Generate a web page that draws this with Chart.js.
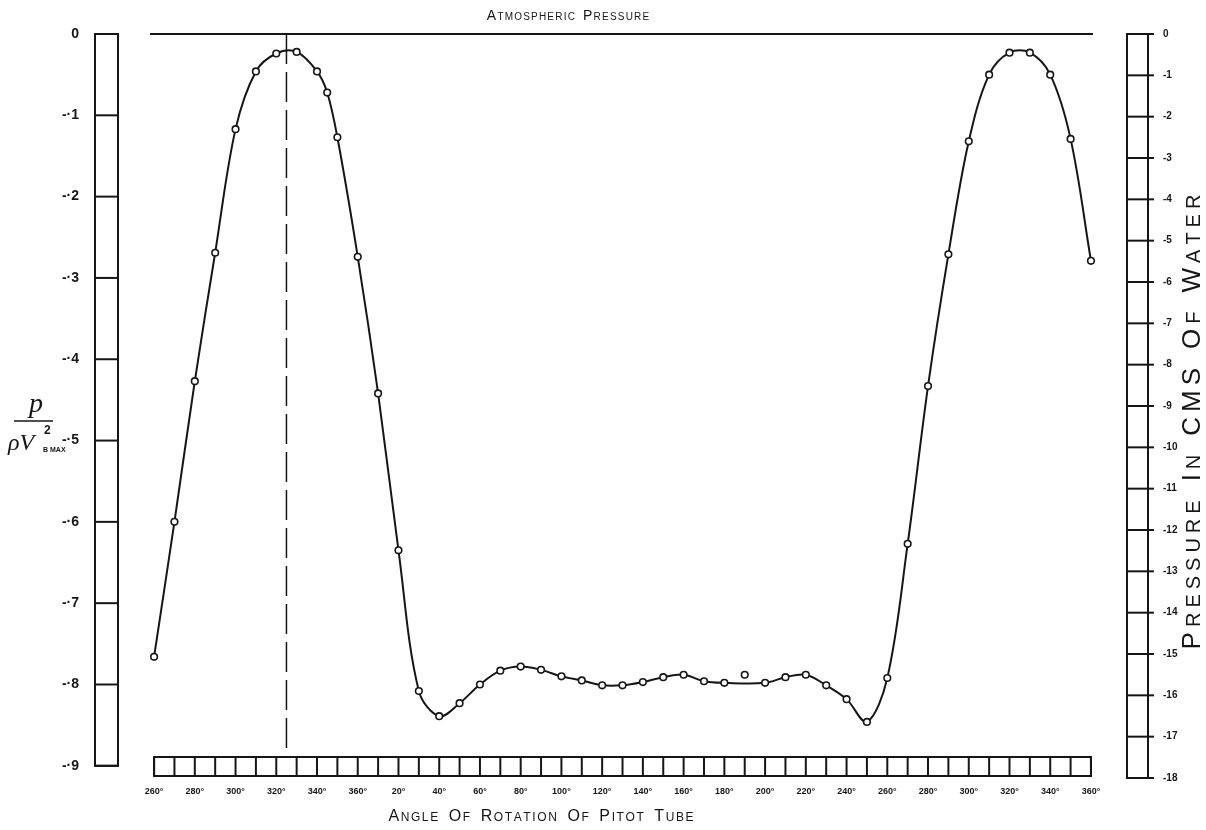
<!DOCTYPE html>
<html>
<head>
<meta charset="utf-8">
<script src="https://cdn.jsdelivr.net/npm/chart.js@4.4.1/dist/chart.umd.min.js"></script>
<style>
  html, body { margin: 0; padding: 0; background: #fff; }
  canvas { display: block; }
</style>
</head>
<body>
<canvas id="pitotChart" width="1206" height="830"></canvas>
<script>
// Angle of rotation, unwrapped: 260..360, then 370..720 stands for 10°..360°
const angles = [260, 270, 280, 290, 300, 310, 320, 330, 340, 345, 350, 360,
  370, 380, 390, 400, 410, 420, 430, 440, 450, 460, 470, 480, 490, 500, 510, 520, 530, 540,
  560, 570, 580, 590, 600, 610, 620, 630, 640, 650, 660, 670, 680, 690, 700, 710, 720];
// p / (rho V^2 max)
const pressure = [-0.766, -0.600, -0.427, -0.269, -0.117, -0.046, -0.024, -0.022, -0.046, -0.072, -0.127, -0.274,
  -0.442, -0.635, -0.808, -0.839, -0.823, -0.800, -0.783, -0.778, -0.782, -0.790, -0.795, -0.801, -0.801, -0.797, -0.791, -0.788, -0.796, -0.798,
  -0.798, -0.791, -0.788, -0.801, -0.818, -0.846, -0.792, -0.627, -0.433, -0.271, -0.132, -0.050, -0.023, -0.023, -0.050, -0.129, -0.279];

// the stray reading at 190° that the curve does not pass through
const strayAngles = [550];
const strayPressure = [-0.788];

// dashed reference line and atmospheric line
const refAngle = 325;
const refDepth = [0, -0.883];
const atmosAngles = [258, 721];
const atmosPressure = [0, 0];

const xMin = 258, xMax = 721;
const xTickValues = [260, 280, 300, 320, 340, 360, 380, 400, 420, 440, 460, 480, 500, 520,
  540, 560, 580, 600, 620, 640, 660, 680, 700, 720];
const xTickLabels = ['260°', '280°', '300°', '320°', '340°', '360°', '20°', '40°', '60°', '80°',
  '100°', '120°', '140°', '160°', '180°', '200°', '220°', '240°', '260°', '280°', '300°', '320°', '340°', '360°'];

const leftMin = -0.915;
const leftTickValues = [0, -0.1, -0.2, -0.3, -0.4, -0.5, -0.6, -0.7, -0.8, -0.9];
const leftTickLabels = ['0', '-·1', '-·2', '-·3', '-·4', '-·5', '-·6', '-·7', '-·8', '-·9'];

const rightTickValues = [0, -1, -2, -3, -4, -5, -6, -7, -8, -9, -10, -11, -12, -13, -14, -15, -16, -17, -18];
const rightTickLabels = ['0', '-1', '-2', '-3', '-4', '-5', '-6', '-7', '-8', '-9', '-10', '-11', '-12',
  '-13', '-14', '-15', '-16', '-17', '-18'];

const INK = '#161616';
const FONT = '"Liberation Sans", Arial, sans-serif';

// uppercase letters drawn big, lowercase drawn as small capitals
function drawCaps(ctx, text, cx, y, big, small, spacing, wordGap) {
  const chars = [...text];
  const fontFor = c => (c === c.toUpperCase() ? big : small) + 'px ' + FONT;
  const widths = chars.map(c => {
    if (c === ' ') return wordGap;
    ctx.font = fontFor(c);
    return ctx.measureText(c.toUpperCase()).width + spacing;
  });
  const total = widths.reduce((a, b) => a + b, 0) - spacing;
  let x = cx - total / 2;
  ctx.textAlign = 'left';
  ctx.textBaseline = 'alphabetic';
  chars.forEach((c, i) => {
    if (c !== ' ') {
      ctx.font = fontFor(c);
      ctx.fillText(c.toUpperCase(), x, y);
    }
    x += widths[i];
  });
}

// keep the fixed side widths and stop tick padding from pushing the plot area in
function fixWidth(w) {
  return s => { s.width = w; s.paddingTop = 0; s.paddingBottom = 0; };
}

const rulers = {
  id: 'rulers',
  beforeDatasetsDraw(chart) {
    const { ctx, chartArea, scales } = chart;
    ctx.save();
    ctx.strokeStyle = INK;
    ctx.lineWidth = 2;

    // left scale bar
    const lx0 = 95, lx1 = 118;
    const lTop = scales.y.getPixelForValue(leftTickValues[0]);
    const lBot = scales.y.getPixelForValue(leftTickValues[leftTickValues.length - 1]);
    ctx.strokeRect(lx0, lTop, lx1 - lx0, lBot - lTop);
    leftTickValues.forEach(v => {
      const py = scales.y.getPixelForValue(v);
      ctx.beginPath(); ctx.moveTo(lx0, py); ctx.lineTo(lx1 + 1, py); ctx.stroke();
    });

    // right scale bar
    const rx0 = 1127, rx1 = 1148;
    const rTop = scales.y2.getPixelForValue(rightTickValues[0]);
    const rBot = scales.y2.getPixelForValue(rightTickValues[rightTickValues.length - 1]);
    ctx.strokeRect(rx0, rTop, rx1 - rx0, rBot - rTop);
    rightTickValues.forEach(v => {
      const py = scales.y2.getPixelForValue(v);
      ctx.beginPath(); ctx.moveTo(rx0, py); ctx.lineTo(rx1 + 6, py); ctx.stroke();
    });

    // bottom angle bar, one box every 10 degrees
    const bTop = chartArea.bottom - 21, bBot = chartArea.bottom - 2;
    const bx0 = scales.x.getPixelForValue(xTickValues[0]);
    const bx1 = scales.x.getPixelForValue(xTickValues[xTickValues.length - 1]);
    ctx.strokeRect(bx0, bTop, bx1 - bx0, bBot - bTop);
    for (let a = xTickValues[0]; a <= xTickValues[xTickValues.length - 1]; a += 10) {
      const px = scales.x.getPixelForValue(a);
      ctx.beginPath(); ctx.moveTo(px, bTop); ctx.lineTo(px, bBot); ctx.stroke();
    }
    ctx.restore();
  },
  afterDraw(chart) {
    const { ctx } = chart;
    ctx.save();
    ctx.fillStyle = INK;

    drawCaps(ctx, 'Atmospheric Pressure', 568, 20, 14, 10, 1.2, 7);
    drawCaps(ctx, 'Angle Of Rotation Of Pitot Tube', 541, 821, 16, 12, 1.6, 9);

    // right axis title, reading upward
    ctx.save();
    ctx.translate(1200, 422);
    ctx.rotate(-Math.PI / 2);
    drawCaps(ctx, 'Pressure In CMS Of Water', 0, 0, 26, 20, 5, 14);
    ctx.restore();

    // left axis title: p over rho V^2 max
    ctx.textAlign = 'center';
    ctx.textBaseline = 'alphabetic';
    ctx.font = 'italic 28px "Liberation Serif", serif';
    ctx.fillText('p', 36, 412);
    ctx.lineWidth = 1.6;
    ctx.strokeStyle = INK;
    ctx.beginPath(); ctx.moveTo(14, 421); ctx.lineTo(53, 421); ctx.stroke();
    ctx.textAlign = 'left';
    ctx.font = 'italic 24px "Liberation Serif", serif';
    ctx.fillText('ρV', 8, 450);
    ctx.font = 'bold 12px ' + FONT;
    ctx.fillText('2', 44, 434);
    ctx.font = 'bold 7px ' + FONT;
    ctx.fillText('B MAX', 43, 452);
    ctx.restore();
  }
};

const lineData = angles.map((a, i) => ({ x: a, y: pressure[i] }));
const strayData = strayAngles.map((a, i) => ({ x: a, y: strayPressure[i] }));
const refData = refDepth.map(v => ({ x: refAngle, y: v }));
const atmosData = atmosAngles.map((a, i) => ({ x: a, y: atmosPressure[i] }));

new Chart(document.getElementById('pitotChart'), {
  type: 'line',
  data: {
    datasets: [
      {
        data: atmosData, borderColor: INK, borderWidth: 2, pointRadius: 0, tension: 0, clip: false
      },
      {
        data: refData, borderColor: INK, borderWidth: 1.5, borderDash: [30, 8], pointRadius: 0, tension: 0, clip: false
      },
      {
        data: lineData, borderColor: INK, borderWidth: 2, tension: 0.35,
        pointRadius: 3.3, pointBorderWidth: 1.6, pointBackgroundColor: '#fff', pointBorderColor: INK, clip: false
      },
      {
        data: strayData, showLine: false,
        pointRadius: 3.3, pointBorderWidth: 1.6, pointBackgroundColor: '#fff', pointBorderColor: INK, clip: false
      }
    ]
  },
  options: {
    responsive: false,
    animation: false,
    devicePixelRatio: 1,
    layout: { padding: { top: 34, left: 0, right: 0, bottom: 0 } },
    plugins: { legend: { display: false }, tooltip: { enabled: false } },
    scales: {
      x: {
        type: 'linear', min: xMin, max: xMax,
        grid: { display: false }, border: { display: false },
        afterBuildTicks: s => { s.ticks = xTickValues.map(v => ({ value: v })); },
        afterFit: s => { s.height = 52; s.paddingLeft = 0; s.paddingRight = 0; },
        ticks: {
          autoSkip: false, maxRotation: 0, padding: 0, color: INK,
          font: { family: FONT, size: 9, weight: 'bold' },
          callback: (v, i) => xTickLabels[i]
        }
      },
      y: {
        position: 'left', min: leftMin, max: 0,
        grid: { display: false }, border: { display: false },
        afterBuildTicks: s => { s.ticks = leftTickValues.map(v => ({ value: v })); },
        afterFit: fixWidth(150),
        ticks: {
          padding: 63, color: INK,
          font: { family: FONT, size: 14, weight: 'bold' },
          callback: (v, i) => leftTickLabels[i]
        }
      },
      y2: {
        position: 'right', min: -18, max: 0,
        grid: { display: false }, border: { display: false },
        afterBuildTicks: s => { s.ticks = rightTickValues.map(v => ({ value: v })); },
        afterFit: fixWidth(113),
        ticks: {
          padding: 62, color: INK,
          font: { family: FONT, size: 10, weight: 'bold' },
          callback: (v, i) => rightTickLabels[i]
        }
      }
    }
  },
  plugins: [rulers]
});
</script>
</body>
</html>
